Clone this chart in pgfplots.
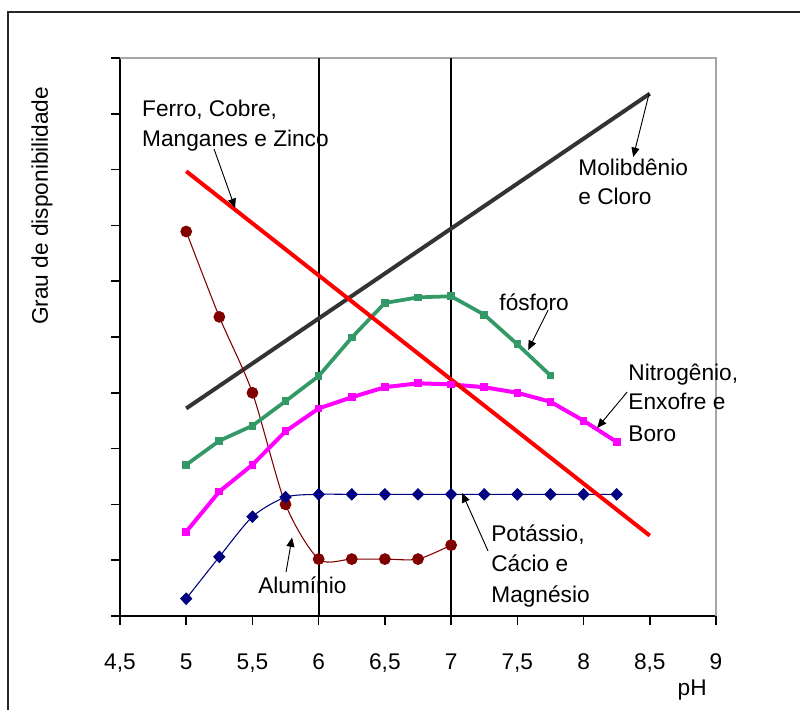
\documentclass[border=0pt]{standalone}
\usepackage{pgfplots}
\pgfplotsset{compat=1.18}
\usepackage{fontspec}
\setmainfont{Liberation Sans}
\usetikzlibrary{arrows.meta}
\definecolor{molib}{RGB}{51,51,51}
\definecolor{fosf}{RGB}{51,153,102}
\definecolor{alum}{RGB}{128,0,0}
\definecolor{potas}{RGB}{0,0,128}
\definecolor{nitro}{RGB}{255,0,255}
\definecolor{ferro}{RGB}{255,0,0}
\newcommand{\lf}{\fontsize{17}{20}\selectfont}
\begin{document}
\begin{tikzpicture}
\path[use as bounding box] (-90pt,-70.5pt) rectangle (510pt,462pt);
\draw[line width=1.1pt, black!85] (-84pt,-80pt) -- (-84pt,453pt) -- (520pt,453pt);
\begin{axis}[
  scale only axis, width=447pt, height=418.5pt,
  xmin=4.5, xmax=9, ymin=0, ymax=10,
  axis lines*=left,
  axis line style={line width=1.4pt, black},
  xtick={4.5,5,5.5,6,6.5,7,7.5,8,8.5,9},
  ytick={0,1,2,3,4,5,6,7,8,9,10}, yticklabels={},
  tick align=outside, major tick length=6.75pt,
  tick style={line width=1.1pt, black},
  xticklabel style={font=\lf, yshift=-18pt, /pgf/number format/.cd, use comma, fixed, assume math mode=true},
  clip=false,
]
\draw[gray!70, line width=1pt] (rel axis cs:0,1) -- (rel axis cs:1,1) -- (rel axis cs:1,0);
\addplot[black, line width=1.5pt] coordinates {(6,0) (6,10)};
\addplot[black, line width=1.5pt] coordinates {(7,0) (7,10)};
% Molibdenio e Cloro
\addplot[molib, line width=3pt] coordinates {(5,3.72) (8.5,9.36)};
% Aluminio
\addplot[alum, line width=0.8pt, smooth, tension=0.45, mark=*, mark size=4pt, mark options={fill=alum}] coordinates {
(5,6.89) (5.25,5.36) (5.5,4.00) (5.75,2.00) (6,1.02) (6.25,1.02) (6.5,1.02) (6.75,1.02) (7,1.27)};
% Potassio
\addplot[potas, line width=0.8pt, smooth, tension=0.45, mark=diamond*, mark size=4.2pt, mark options={fill=potas, xscale=1.3}] coordinates {
(5,0.31) (5.25,1.06) (5.5,1.78) (5.75,2.13) (6,2.18) (6.25,2.18) (6.5,2.18) (6.75,2.18) (7,2.18) (7.25,2.18) (7.5,2.18) (7.75,2.18) (8,2.18) (8.25,2.18)};
% fosforo
\addplot[fosf, line width=2.8pt, mark=square*, mark size=2.5pt, mark options={fill=fosf, line width=0pt}] coordinates {
(5,2.71) (5.25,3.14) (5.5,3.41) (5.75,3.85) (6,4.30) (6.25,4.99) (6.5,5.61) (6.75,5.71) (7,5.73) (7.25,5.40) (7.5,4.87) (7.75,4.31)};
% Nitrogenio
\addplot[nitro, line width=3pt, mark=square*, mark size=2.5pt, mark options={fill=nitro, line width=0pt}] coordinates {
(5,1.51) (5.25,2.23) (5.5,2.71) (5.75,3.31) (6,3.72) (6.25,3.92) (6.5,4.10) (6.75,4.17) (7,4.15) (7.25,4.10) (7.5,4.00) (7.75,3.84) (8,3.50) (8.25,3.12)};
% Ferro, Cobre...
\addplot[ferro, line width=3pt] coordinates {(5,7.97) (8.5,1.44)};

% texts
\node[anchor=base west, font=\lf, inner sep=0pt] at (axis cs:4.666,8.96) {Ferro, Cobre,};
\node[anchor=base west, font=\lf, inner sep=0pt] at (axis cs:4.666,8.405) {Manganes e Zinco};
\node[anchor=base west, font=\lf, inner sep=0pt] at (axis cs:7.959,7.903) {Molibdênio};
\node[anchor=base west, font=\lf, inner sep=0pt] at (axis cs:7.959,7.366) {e Cloro};
\node[anchor=base west, font=\lf, inner sep=0pt] at (axis cs:7.363,5.466) {fósforo};
\node[anchor=base west, font=\lf, inner sep=0pt] at (axis cs:8.337,4.229) {Nitrogênio,};
\node[anchor=base west, font=\lf, inner sep=0pt] at (axis cs:8.337,3.692) {Enxofre e};
\node[anchor=base west, font=\lf, inner sep=0pt] at (axis cs:8.337,3.136) {Boro};
\node[anchor=base west, font=\lf, inner sep=0pt] at (axis cs:7.302,1.344) {Potássio,};
\node[anchor=base west, font=\lf, inner sep=0pt] at (axis cs:7.302,0.789) {Cácio e};
\node[anchor=base west, font=\lf, inner sep=0pt] at (axis cs:7.302,0.233) {Magnésio};
\node[anchor=base west, font=\lf, inner sep=0pt] at (axis cs:5.542,0.412) {Alumínio};
% arrows
\draw[line width=0.7pt, -{Triangle[length=7pt,width=6pt]}] (axis cs:5.210,8.369) -- (axis cs:5.369,7.312);
\draw[line width=0.7pt, -{Triangle[length=7pt,width=6pt]}] (axis cs:8.495,9.362) -- (axis cs:8.375,8.226);
\draw[line width=0.7pt, -{Triangle[length=7pt,width=6pt]}] (axis cs:7.733,5.484) -- (axis cs:7.582,4.767);
\draw[line width=0.7pt, -{Triangle[length=7pt,width=6pt]}] (axis cs:8.329,4.014) -- (axis cs:8.103,3.369);
\draw[line width=0.7pt, -{Triangle[length=7pt,width=6pt]}] (axis cs:7.279,1.165) -- (axis cs:7.083,2.204);
\draw[line width=0.7pt, -{Triangle[length=7pt,width=6pt]}] (axis cs:5.754,0.789) -- (axis cs:5.799,1.407);
% axis labels
\node[rotate=90, font=\lf] at (axis cs:3.911,7.35) {Grau de disponibilidade};
\node[font=\lf] at (axis cs:8.82,-1.326) {pH};
\end{axis}
\end{tikzpicture}
\end{document}
